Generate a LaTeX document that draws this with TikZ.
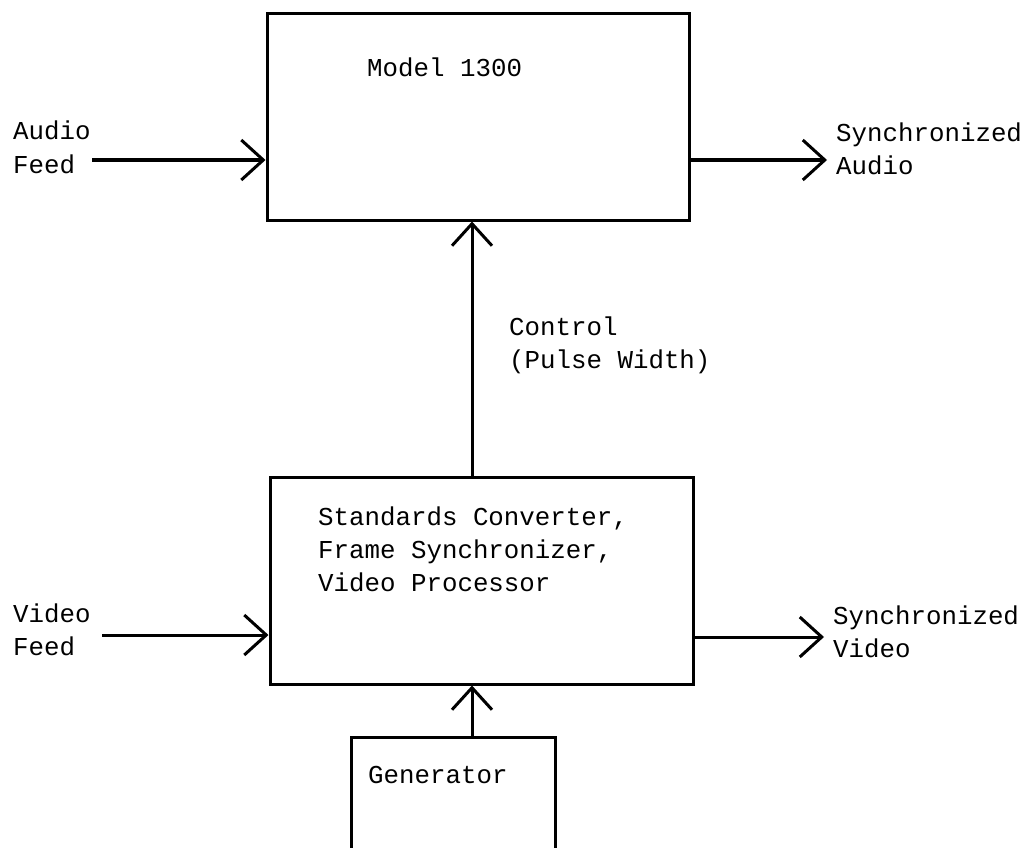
\documentclass[tikz,border=0pt]{standalone}
\usepackage{fontspec}
\setmainfont{Liberation Mono}
\usetikzlibrary{arrows.meta,calc,positioning}

\tikzset{
  blockbox/.style={draw, line width=3pt, inner sep=0pt},
  txt/.style={font=\fontsize{25.8pt}{33pt}\selectfont, inner sep=0pt, align=left},
  flow/.style={line width=3pt, -{Straight Barb[length=22pt,width=40pt]}}
}

\begin{document}
\begin{tikzpicture}[x=1pt,y=-1pt]
    \useasboundingbox (0,0) rectangle (1036,848);

    % the three blocks (the generator runs off the bottom of the sheet)
    \node[blockbox, minimum width=422pt, minimum height=206pt] (model) at (478,117) {};
    \node[blockbox, minimum width=423pt, minimum height=207pt] (proc) at (481.5,580.5) {};
    \node[blockbox, minimum width=204pt, minimum height=163pt] (gen) at (453,818.5) {};

    % texts in the blocks (base = last line)
    \node[txt, anchor=base west] (modeltxt) at (367,77) {Model 1300};
    \node[txt, anchor=base west] (proctxt) at (318,591) {Standards Converter,\\Frame Synchronizer,\\Video Processor};
    \node[txt, anchor=base west] (gentxt) at (368,783) {Generator};

    % inputs and outputs
    \node[txt, anchor=base west] (audiofeed) at (13,173) {Audio\\Feed};
    \node[txt, anchor=base west] (syncaudio) at (836,175) {Synchronized\\Audio};
    \node[txt, anchor=base west] (videofeed) at (13,655) {Video\\Feed};
    \node[txt, anchor=base west] (syncvideo) at (833,657) {Synchronized\\Video};
    \node[txt, anchor=base west] (control) at (509,368) {Control\\(Pulse Width)};

    \coordinate (ain) at (92,160);
    \coordinate (aout) at (827,160);
    \coordinate (vin) at (102,635);
    \coordinate (vout) at (824,637);
    \coordinate (ctl) at (472,0);

    % signal paths
    \draw[flow] (ain) -- (ain -| model.west);
    \draw[flow] (aout -| model.east) -- (aout);
    \draw[flow] (vin) -- (vin -| proc.west);
    \draw[flow] (vout -| proc.east) -- (vout);
    \draw[flow] (proc.north -| ctl) -- (model.south -| ctl);
    \draw[flow] (gen.north -| ctl) -- (proc.south -| ctl);
\end{tikzpicture}
\end{document}
